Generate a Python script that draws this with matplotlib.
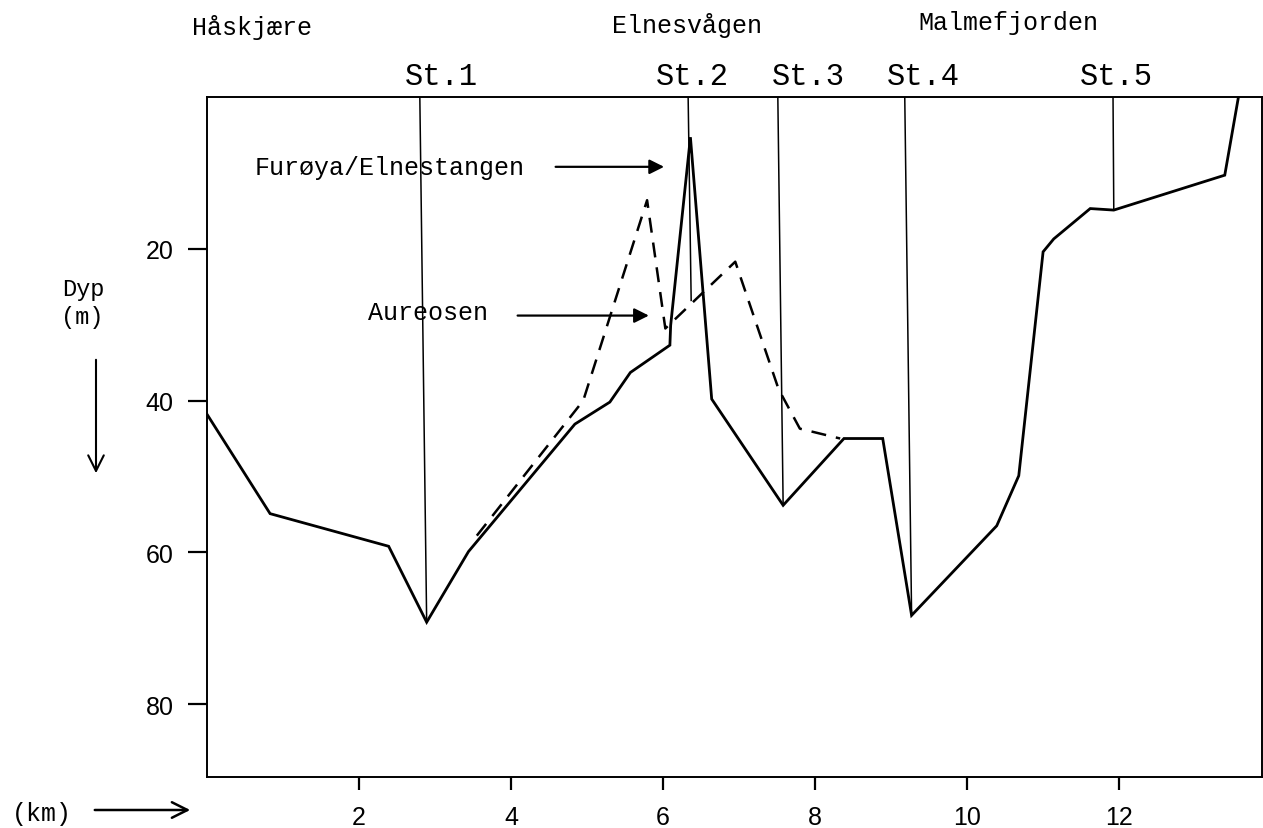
import matplotlib.pyplot as plt

# bottom profile along the section (km, depth m)
profile_km = [0.0, 0.83, 2.39, 2.89, 3.44, 4.84, 5.30, 5.57, 6.09, 6.10, 6.36,
              6.64, 7.58, 8.38, 8.89, 9.27, 10.39, 10.68, 11.00, 11.14, 11.62,
              11.93, 13.39, 13.57]
profile_depth = [41.8, 54.9, 59.2, 69.2, 59.9, 43.1, 40.2, 36.3, 32.7, 30.1, 5.3,
                 39.8, 53.8, 45.0, 45.0, 68.3, 56.5, 49.9, 20.4, 18.7, 14.7,
                 14.9, 10.3, 0.0]

# alternative profile via Aureosen (dashed)
aureosen_km = [3.55, 4.95, 5.79, 6.03, 6.95, 7.52, 7.80, 8.33]
aureosen_depth = [57.8, 40.0, 13.6, 30.5, 21.7, 38.5, 43.7, 45.0]

# stations
stations = ['St.1', 'St.2', 'St.3', 'St.4', 'St.5']
station_km_top = [2.80, 6.33, 7.51, 9.18, 11.92]
station_km_bot = [2.89, 6.37, 7.58, 9.27, 11.93]
station_depth = [69.2, 26.8, 53.8, 68.3, 14.9]
station_label_km = [3.08, 6.39, 7.91, 9.43, 11.96]

areas = ['Håskjære', 'Elnesvågen', 'Malmefjorden']
area_px = [(252, 27), (687, 25), (1008, 23)]

xticks = [2, 4, 6, 8, 10, 12]
yticks = [20, 40, 60, 80]

W, H = 1263, 829
mono = 'Liberation Mono'

fig = plt.figure(figsize=(W / 100, H / 100), dpi=100)
ax = fig.add_axes([207 / W, 1 - 778 / H, (1262 - 207) / W, (778 - 98) / H])
ax.set_xlim(0, 13.88)
ax.set_ylim(89.6, 0)

ax.plot(profile_km, profile_depth, color='black', lw=2.0, solid_joinstyle='miter')
ax.plot(aureosen_km, aureosen_depth, color='black', lw=1.8, ls=(0, (6, 4)))

for name, xt, xb, d, xl in zip(stations, station_km_top, station_km_bot,
                               station_depth, station_label_km):
    ax.plot([xt, xb], [0, d], color='black', lw=1.1)
    ax.text(xl, -2.8, name, family=mono, fontsize=22, ha='center', va='center',
            clip_on=False)

for name, (px, py) in zip(areas, area_px):
    fig.text(px / W, 1 - py / H, name, family=mono, fontsize=18,
             ha='center', va='center')

for s in ax.spines.values():
    s.set_linewidth(1.4)

ax.set_xticks(xticks)
ax.set_yticks(yticks)
ax.tick_params(axis='y', direction='out', length=14, width=1.6, pad=10,
               labelsize=18, left=True)
ax.tick_params(axis='x', direction='out', length=9, width=1.6, pad=11,
               labelsize=18)
for lab in ax.get_xticklabels() + ax.get_yticklabels():
    lab.set_family('Liberation Sans')

# annotations inside the plot
ax.text(0.63, 9.2, 'Furøya/Elnestangen', family=mono, fontsize=18,
        ha='left', va='center')
ax.annotate('', xy=(6.05, 9.2), xytext=(4.55, 9.2),
            arrowprops=dict(arrowstyle='-|>', color='black', lw=1.6,
                            mutation_scale=22))
ax.text(2.12, 28.3, 'Aureosen', family=mono, fontsize=18,
        ha='left', va='center')
ax.annotate('', xy=(5.85, 28.8), xytext=(4.05, 28.8),
            arrowprops=dict(arrowstyle='-|>', color='black', lw=1.6,
                            mutation_scale=22))

# axis captions
fig.text(83 / W, 1 - 290 / H, 'Dyp', family=mono, fontsize=17,
         ha='center', va='center')
fig.text(82 / W, 1 - 318 / H, '(m)', family=mono, fontsize=17,
         ha='center', va='center')
fig.add_artist(plt.Annotation('', xy=(96 / W, 1 - 477 / H), xytext=(96 / W, 1 - 358 / H),
                              xycoords='figure fraction', textcoords='figure fraction',
                              arrowprops=dict(arrowstyle='->', color='black', lw=1.5,
                                              mutation_scale=28)))
fig.text(42 / W, 1 - 814 / H, '(km)', family=mono, fontsize=18,
         ha='center', va='center')
fig.add_artist(plt.Annotation('', xy=(193 / W, 1 - 811 / H), xytext=(92 / W, 1 - 811 / H),
                              xycoords='figure fraction', textcoords='figure fraction',
                              arrowprops=dict(arrowstyle='->', color='black', lw=1.8,
                                              mutation_scale=28)))

fig.savefig('out.png', dpi=100)
